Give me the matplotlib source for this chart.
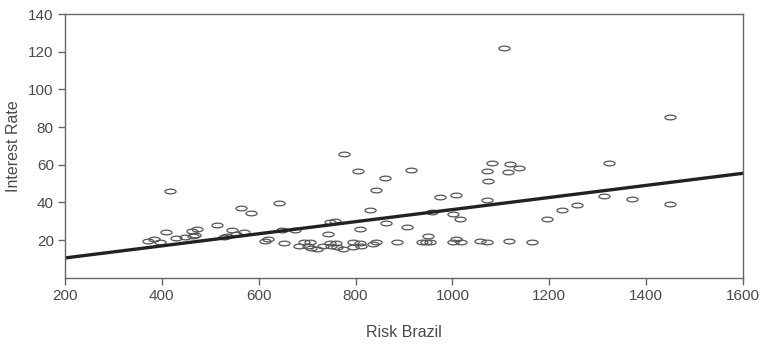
import numpy as np
import matplotlib.pyplot as plt
from matplotlib.path import Path

# risk premium (basis points) vs. interest rate (%)
risk_brazil = [371, 384, 396, 408, 417, 429, 448, 463, 465, 468, 472, 513, 528, 534,
               545, 554, 563, 570, 585, 614, 620, 642, 649, 652, 675, 684, 693, 702,
               706, 709, 721, 732, 744, 747, 747, 749, 758, 760, 762, 775, 777, 794,
               794, 806, 809, 810, 811, 830, 837, 842, 842, 861, 863, 885, 907, 914,
               937, 945, 953, 949, 957, 974, 1001, 1001, 1007, 1007, 1016, 1017, 1057,
               1071, 1071, 1074, 1071, 1082, 1106, 1115, 1119, 1117, 1138, 1164, 1196,
               1226, 1258, 1312, 1323, 1371, 1449, 1450]
interest_rate = [19.7, 20.7, 19.1, 24.3, 46.0, 21.1, 21.6, 25.0, 22.0, 22.5, 25.9, 28.2,
                 21.4, 22.0, 25.2, 23.0, 37.2, 24.1, 34.3, 19.3, 20.4, 39.8, 25.2, 18.6,
                 25.2, 16.8, 18.8, 16.8, 18.8, 15.8, 15.1, 16.8, 23.2, 29.6, 18.6, 16.7,
                 30.0, 18.6, 16.5, 15.4, 65.5, 19.0, 16.5, 56.8, 18.6, 25.7, 16.7, 36.1,
                 17.7, 19.0, 46.3, 53.1, 29.3, 19.0, 27.1, 57.2, 19.0, 19.0, 19.0, 22.0,
                 34.7, 43.0, 34.0, 19.0, 20.7, 44.0, 31.3, 19.1, 19.7, 19.0, 41.3, 51.1,
                 56.5, 60.8, 121.8, 56.2, 60.3, 19.5, 58.0, 19.1, 31.2, 36.0, 38.6, 43.4,
                 60.9, 42.0, 39.0, 85.3]

# fitted regression line
intercept = 4.07
slope = 0.0321

plt.rcParams['font.family'] = ['Liberation Sans', 'DejaVu Sans']
grey = '#4a4a4a'

# flat ellipse marker
t = np.linspace(0, 2 * np.pi, 60)
ellipse = Path(np.column_stack([np.cos(t), 0.42 * np.sin(t)]), closed=True)

fig = plt.figure(figsize=(7.6, 3.44), dpi=100)
ax = fig.add_axes([0.0855, 0.1927, 0.8921, 0.7666])

ax.plot(risk_brazil, interest_rate, linestyle='none', marker=ellipse, markersize=8,
        markerfacecolor='none', markeredgecolor='#555555', markeredgewidth=0.9)

xs = np.array([200, 1600])
ax.plot(xs, intercept + slope * xs, color='#222222', linewidth=2.4)

ax.set_xlim(200, 1600)
ax.set_ylim(0, 140)
ax.set_xticks(range(200, 1601, 200))
ax.set_yticks(range(20, 141, 20))

for side in ['left', 'bottom', 'top', 'right']:
    ax.spines[side].set_color('#666666')
    ax.spines[side].set_linewidth(1.0)

ax.tick_params(direction='out', length=5, width=1, color='#666666',
               labelsize=11, labelcolor=grey, pad=3)

ax.set_xlabel('Risk Brazil', fontsize=11.5, color=grey, labelpad=16)
ax.set_ylabel('Interest Rate', fontsize=11.5, color=grey, labelpad=5)

plt.savefig('out.png', dpi=100)
